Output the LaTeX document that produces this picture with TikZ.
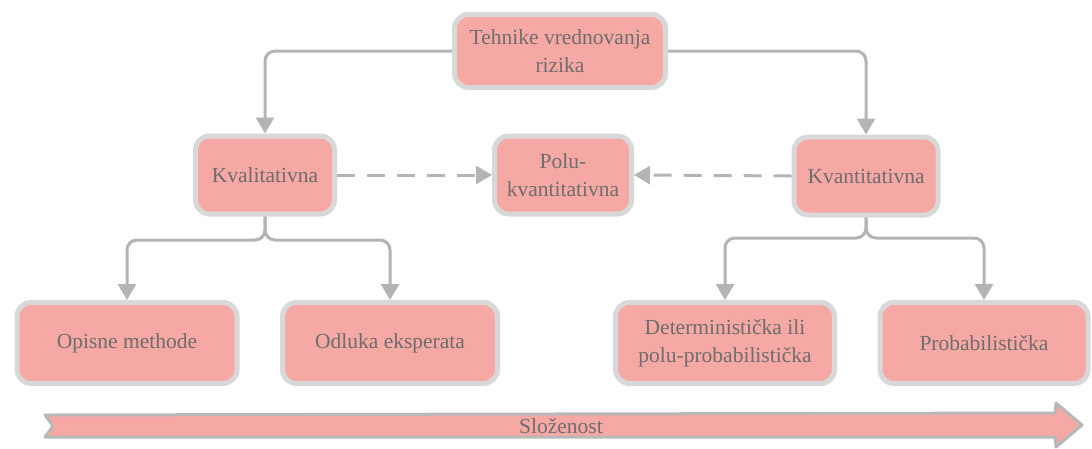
\documentclass[tikz,border=0pt]{standalone}
\usepackage{fontspec}
\setmainfont{Liberation Serif}
\usetikzlibrary{arrows.meta}
\definecolor{boxfill}{HTML}{F5A8A4}
\definecolor{boxline}{HTML}{D8D8D8}
\definecolor{lineclr}{HTML}{B4B4B4}
\definecolor{txt}{HTML}{6E6E6E}
\definecolor{arrowline}{HTML}{B8B8B8}
\begin{document}
\begin{tikzpicture}[x=1pt,y=-1pt,
  box/.style={draw=boxline, line width=5pt, fill=boxfill, rounded corners=14pt,
    text=txt, align=center, inner sep=0pt,
    font=\fontsize{21.5}{28}\selectfont},
  conn/.style={draw=lineclr, line width=3pt, rounded corners=10pt,
    -{Triangle[width=18pt,length=16pt]}},
  dashconn/.style={conn, dash pattern=on 18pt off 12pt}]
\useasboundingbox (0,0) rectangle (1092,448);

% levels of the hierarchy
\node[box, minimum width=211, minimum height=73] (top) at (560,51) {Tehnike vrednovanja\\rizika};
\node[box, minimum width=139, minimum height=78] (kval) at (265,175) {Kvalitativna};
\node[box, minimum width=137, minimum height=78] (polu) at (563,175) {Polu-\\kvantitativna};
\node[box, minimum width=144, minimum height=78] (kvant) at (866,176) {Kvantitativna};
\node[box, minimum width=220, minimum height=81] (opis) at (127,343) {Opisne methode};
\node[box, minimum width=215, minimum height=81] (odl) at (390,343) {Odluka eksperata};
\node[box, minimum width=219, minimum height=81] (det) at (725,343) {Deterministička ili\\polu-probabilistička};
\node[box, minimum width=208, minimum height=81] (prob) at (984,343) {Probabilistička};

% branch points
\coordinate (ks) at (265,240);
\coordinate (qs) at (866,238);

% connectors
\draw[conn] (top.west) -| (kval.north);
\draw[conn] (top.east) -| (kvant.north);
\draw[conn] (kval.south) -- (ks) -| (opis.north);
\draw[conn] (kval.south) -- (ks) -| (odl.north);
\draw[conn] (kvant.south) -- (qs) -| (det.north);
\draw[conn] (kvant.south) -- (qs) -| (prob.north);
\draw[dashconn] (kval.east) -- (polu.west);
\draw[dashconn] (kvant.west) -- (polu.east);

% complexity arrow
\draw[fill=boxfill, draw=arrowline, line width=3pt, line join=round]
  (45,415) -- (1055,413) -- (1056,403) -- (1082,425) -- (1056,447) -- (1055,437)
  -- (45,437) -- (53,426) -- cycle;
\node[text=txt, font=\fontsize{21.5}{26}\selectfont] (slozenost) at (561,426) {Složenost};
\end{tikzpicture}
\end{document}
